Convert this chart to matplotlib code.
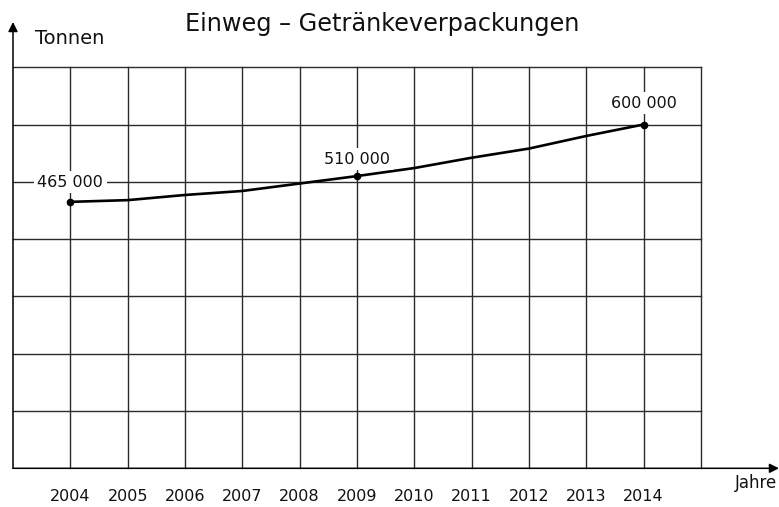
import matplotlib
matplotlib.use("Agg")
import matplotlib.pyplot as plt

# ---- data ----
years = [2004, 2005, 2006, 2007, 2008, 2009, 2010, 2011, 2012, 2013, 2014]
tonnen = [465000, 468000, 477000, 484000, 497000, 510000, 524000, 542000, 558000, 580000, 600000]
labelled_years = [2004, 2009, 2014]
labelled_texts = ["465 000", "510 000", "600 000"]
title = "Einweg \u2013 Getr\u00e4nkeverpackungen"
y_label = "Tonnen"
x_label = "Jahre"
grid_years = list(range(2004, 2016))
grid_values = list(range(100000, 700001, 100000))

W, H = 779, 507
fig = plt.figure(figsize=(W / 100, H / 100), dpi=100)
ax = fig.add_axes([0, 0, 1, 1])
ax.set_axis_off()

# pixel mapping: 2003 -> x=13, 57.33 px/year; 0 -> y=468.3, 57.3 px per 100000
px_year = 57.33
px_val = 57.3 / 100000
x0_year = 2003 - 13 / px_year
x1_year = 2003 + (W - 13) / px_year
y_top = (468.3 - 0) / px_val
y_bot = (468.3 - H) / px_val
ax.set_xlim(x0_year, x1_year)
ax.set_ylim(y_bot, y_top)

grid_color = "#2b2b2b"
for gx in grid_years:
    ax.plot([gx, gx], [0, 700000], color=grid_color, lw=1.0, zorder=1)
for gy in grid_values:
    ax.plot([2003, 2015], [gy, gy], color=grid_color, lw=1.0, zorder=1)

# axes with arrows
ax.annotate("", xy=(2003, (468.3 - 22) / px_val), xytext=(2003, 0),
            arrowprops=dict(arrowstyle="-|>", lw=1.1, color="black", mutation_scale=14,
                            shrinkA=0, shrinkB=0), zorder=3)
ax.annotate("", xy=(x1_year, 0), xytext=(2003, 0),
            arrowprops=dict(arrowstyle="-|>", lw=1.1, color="black", mutation_scale=14,
                            shrinkA=0, shrinkB=0), zorder=3)

# curve
ax.plot(years, tonnen, color="black", lw=1.9, zorder=4, solid_capstyle="round")
lab_vals = [tonnen[years.index(y)] for y in labelled_years]
ax.plot(labelled_years, lab_vals, "o", color="black", ms=4.5, zorder=5)

# value labels
bbox = dict(facecolor="white", edgecolor="none", pad=2.5)
ax.text(labelled_years[0], 499000, labelled_texts[0], ha="center", va="center",
        fontsize=11.5, color="#111111", bbox=bbox, zorder=6)
ax.text(labelled_years[1], lab_vals[1] + 29000, labelled_texts[1], ha="center", va="center",
        fontsize=11.5, color="#111111", bbox=bbox, zorder=6)
ax.text(labelled_years[2], lab_vals[2] + 37000, labelled_texts[2], ha="center", va="center",
        fontsize=11.5, color="#111111", bbox=bbox, zorder=6)

# year tick labels
for yv in years:
    ax.text(yv, (468.3 - 496.5) / px_val, str(yv), ha="center", va="center",
            fontsize=11.5, color="#111111")

# text labels
ax.text(382 / W, 1 - 24 / H, title, transform=fig.transFigure, ha="center", va="center",
        fontsize=17.3, color="#111111")
ax.text(35 / W, 1 - 39 / H, y_label, transform=fig.transFigure, ha="left", va="center",
        fontsize=14, color="#111111")
ax.text(735 / W, 1 - 483 / H, x_label, transform=fig.transFigure, ha="left", va="center",
        fontsize=12, color="#111111", clip_on=False)

fig.savefig("out.png", dpi=100, facecolor="white")
